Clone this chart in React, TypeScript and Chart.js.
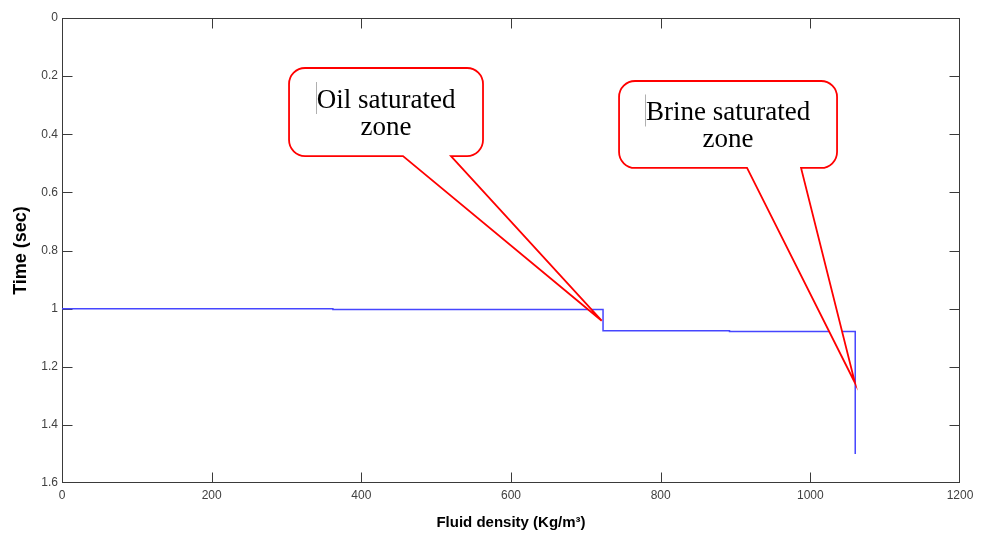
import React, { useEffect, useRef } from "react";
import { Chart, registerables } from "chart.js";

Chart.register(...registerables);

// Fluid density (Kg/m^3) along the step profile
const density = [0, 362, 362, 723, 723, 892, 892, 1060, 1060];
// Two-way time (sec) along the step profile
const time = [1.0, 1.0, 1.003, 1.003, 1.076, 1.076, 1.079, 1.079, 1.5];

const xTicks = [0, 200, 400, 600, 800, 1000, 1200];
const yTicks = [0, 0.2, 0.4, 0.6, 0.8, 1, 1.2, 1.4, 1.6];

// Callout annotations (data units)
const calloutLabels = [["Oil saturated", "zone"], ["Brine saturated", "zone"]];
const calloutBoxX = [[303.4, 562.6], [744.4, 1035.7]];
const calloutBoxY = [[0.172, 0.475], [0.2168, 0.516]];
const calloutBaseX = [[455.7, 519.8], [915.4, 987.6]];
const calloutTip = [[721.2, 1.0416], [1059.7, 1.256]];

const AXIS_COLOR = "#3a3a3a";
const TICK_FONT = "'Liberation Sans', Arial, sans-serif";

const frame = {
  id: "frame",
  beforeDatasetsDraw(chart: any) {
    const { ctx, chartArea } = chart;
    const xs = chart.scales.x;
    const ys = chart.scales.y;
    const L = Math.round(chartArea.left) + 0.5;
    const R = Math.round(chartArea.right) - 0.5;
    const T = Math.round(chartArea.top) + 0.5;
    const B = Math.round(chartArea.bottom) - 0.5;
    ctx.save();
    ctx.strokeStyle = AXIS_COLOR;
    ctx.lineWidth = 1;
    ctx.strokeRect(L, T, R - L, B - T);
    const tl = 10;
    ctx.beginPath();
    xTicks.forEach((v) => {
      const px = Math.min(R, Math.max(L, Math.round(xs.getPixelForValue(v)) + 0.5));
      ctx.moveTo(px, B);
      ctx.lineTo(px, B - tl);
      ctx.moveTo(px, T);
      ctx.lineTo(px, T + tl);
    });
    yTicks.forEach((v) => {
      const py = Math.min(B, Math.max(T, Math.round(ys.getPixelForValue(v)) + 0.5));
      ctx.moveTo(L, py);
      ctx.lineTo(L + tl, py);
      ctx.moveTo(R, py);
      ctx.lineTo(R - tl, py);
    });
    ctx.stroke();
    ctx.restore();
  },
};

const callouts = {
  id: "callouts",
  afterDatasetsDraw(chart: any) {
    const { ctx } = chart;
    const xs = chart.scales.x;
    const ys = chart.scales.y;
    ctx.save();
    calloutLabels.forEach((lines, i) => {
      const x1 = xs.getPixelForValue(calloutBoxX[i][0]);
      const x2 = xs.getPixelForValue(calloutBoxX[i][1]);
      const y1 = ys.getPixelForValue(calloutBoxY[i][0]);
      const y2 = ys.getPixelForValue(calloutBoxY[i][1]);
      const b1 = xs.getPixelForValue(calloutBaseX[i][0]);
      const b2 = xs.getPixelForValue(calloutBaseX[i][1]);
      const tx = xs.getPixelForValue(calloutTip[i][0]);
      const ty = ys.getPixelForValue(calloutTip[i][1]);
      const r = 16;
      ctx.beginPath();
      ctx.moveTo(x1 + r, y1);
      ctx.lineTo(x2 - r, y1);
      ctx.arcTo(x2, y1, x2, y1 + r, r);
      ctx.lineTo(x2, y2 - r);
      ctx.arcTo(x2, y2, x2 - r, y2, r);
      ctx.lineTo(b2, y2);
      ctx.lineTo(tx, ty);
      ctx.lineTo(b1, y2);
      ctx.lineTo(x1 + r, y2);
      ctx.arcTo(x1, y2, x1, y2 - r, r);
      ctx.lineTo(x1, y1 + r);
      ctx.arcTo(x1, y1, x1 + r, y1, r);
      ctx.closePath();
      ctx.fillStyle = "#ffffff";
      ctx.fill();
      ctx.strokeStyle = "#ff0000";
      ctx.lineWidth = 1.8;
      ctx.lineJoin = "miter";
      ctx.stroke();

      ctx.fillStyle = "#000000";
      ctx.font = "27px 'Liberation Serif', 'Times New Roman', serif";
      ctx.textAlign = "center";
      ctx.textBaseline = "alphabetic";
      const cx = (x1 + x2) / 2;
      const cy = (y1 + y2) / 2;
      const base1 = cy - 4;
      lines.forEach((t, k) => ctx.fillText(t, cx, base1 + k * 27));
      // faint text cursor before first line
      const w = ctx.measureText(lines[0]).width;
      const cxl = Math.round(cx - w / 2) - 0.5;
      ctx.strokeStyle = "#b0b0b0";
      ctx.lineWidth = 1;
      ctx.beginPath();
      ctx.moveTo(cxl, base1 - 26);
      ctx.lineTo(cxl, base1 + 6);
      ctx.stroke();
    });
    ctx.restore();
  },
};

export default function App() {
  const ref = useRef<HTMLCanvasElement | null>(null);
  useEffect(() => {
    if (!ref.current) return;
    const chart = new Chart(ref.current, {
      type: "scatter",
      data: {
        datasets: [
          {
            data: density.map((d, i) => ({ x: d, y: time[i] })),
            showLine: true,
            borderColor: "rgb(70,70,255)",
            borderWidth: 1.5,
            pointRadius: 0,
            fill: false,
            tension: 0,
            clip: false,
          },
        ],
      },
      options: {
        animation: false,
        responsive: false,
        devicePixelRatio: 1,
        layout: { padding: { top: 18, right: 26, bottom: 0, left: 0 } },
        plugins: { legend: { display: false }, tooltip: { enabled: false } },
        scales: {
          x: {
            type: "linear",
            min: 0,
            max: 1200,
            afterFit: (s: any) => {
              s.height = 52;
            },
            afterBuildTicks: (s: any) => {
              s.ticks = xTicks.map((v) => ({ value: v }));
            },
            grid: { display: false, drawTicks: false },
            border: { display: false },
            ticks: {
              padding: 5,
              maxRotation: 0,
              color: "#404040",
              font: { family: TICK_FONT, size: 12 },
              callback: (v: any) => String(v),
            },
            title: {
              display: true,
              text: "Fluid density (Kg/m³)",
              color: "#000",
              font: { family: "'Liberation Sans', Arial, sans-serif", size: 15, weight: "bold" },
              padding: { top: 0, bottom: 3 },
            },
          },
          y: {
            type: "linear",
            reverse: true,
            min: 0,
            max: 1.6,
            afterFit: (s: any) => {
              s.width = 62;
            },
            afterBuildTicks: (s: any) => {
              s.ticks = yTicks.map((v) => ({ value: v }));
            },
            grid: { display: false, drawTicks: false },
            border: { display: false },
            ticks: {
              padding: 4,
              color: "#404040",
              font: { family: TICK_FONT, size: 12 },
              callback: (v: any) => String(Number(Number(v).toFixed(1))),
            },
            title: {
              display: true,
              text: "Time (sec)",
              color: "#000",
              font: { family: "'Liberation Sans', Arial, sans-serif", size: 18, weight: "bold" },
              padding: { top: 10, bottom: 0 },
            },
          },
        },
      },
      plugins: [frame, callouts],
    });
    return () => chart.destroy();
  }, []);
  return (
    <div style={{ position: "absolute", left: 0, top: 0, width: 986, height: 535, background: "#fff" }}>
      <canvas ref={ref} width={986} height={535} style={{ width: 986, height: 535, display: "block" }} />
    </div>
  );
}
